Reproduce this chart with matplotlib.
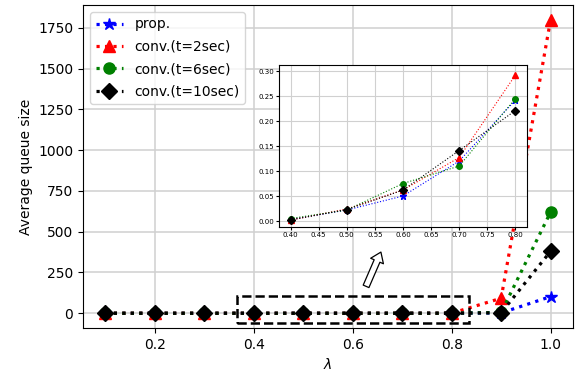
import numpy as np
import matplotlib
matplotlib.use("Agg")
import matplotlib.pyplot as plt
from matplotlib.patches import Rectangle

# arrival rate
lam = [0.1, 0.2, 0.3, 0.4, 0.5, 0.6, 0.7, 0.8, 0.9, 1.0]

# average queue size for each scheme
q_prop = [0.0, 0.0, 0.0005, 0.003, 0.022, 0.050, 0.120, 0.242, 2, 102]
q_conv2 = [0.0, 0.0, 0.0005, 0.002, 0.024, 0.062, 0.127, 0.292, 92, 1800]
q_conv6 = [0.0, 0.0, 0.0005, 0.005, 0.022, 0.075, 0.110, 0.245, 5, 620]
q_conv10 = [0.0, 0.0, 0.0005, 0.002, 0.023, 0.062, 0.141, 0.221, 3, 380]

labels = ["prop.", "conv.(t=2sec)", "conv.(t=6sec)", "conv.(t=10sec)"]
series = [q_prop, q_conv2, q_conv6, q_conv10]
styles = [("b", "*"), ("r", "^"), ("g", "o"), ("k", "D")]

plt.rcParams["grid.color"] = "#d0d0d0"
plt.rcParams["grid.linewidth"] = 1.1

fig = plt.figure(figsize=(5.81, 3.8), dpi=100)
ax = fig.add_axes([0.143, 0.137, 0.843, 0.85])

for y, lab, (c, m) in zip(series, labels, styles):
    ax.plot(lam, y, linestyle=":", color=c, marker=m, markersize=8 if m != "*" else 9,
            linewidth=2.3, label=lab)

ax.grid(True)
ax.set_xlabel(r"$\lambda$")
ax.set_ylabel("Average queue size")
ax.set_xticks([0.2, 0.4, 0.6, 0.8, 1.0])
ax.set_yticks(np.arange(0, 1751, 250))
ax.legend(loc="upper left", labelspacing=0.6)

# zoomed region marker
rect = Rectangle((0.367, -62), 0.835 - 0.367, 169, fill=False, linestyle="--",
                 linewidth=1.8, edgecolor="k", zorder=5)
ax.add_patch(rect)
ax.annotate("", xy=(0.657, 375), xytext=(0.627, 165),
            arrowprops=dict(arrowstyle="simple,head_width=1.0,head_length=0.7,tail_width=0.45",
                            facecolor="white", edgecolor="k", linewidth=0.9,
                            shrinkA=0, shrinkB=0))

# inset
axin = fig.add_axes([0.4807, 0.4026, 0.4258, 0.4263])
for y, (c, m) in zip(series, styles):
    axin.plot(lam[3:8], y[3:8], linestyle=":", color=c, marker=m,
              markersize=4 if m != "*" else 5, linewidth=0.8)
axin.grid(True, linewidth=0.8)
axin.set_xticks([0.40, 0.45, 0.50, 0.55, 0.60, 0.65, 0.70, 0.75, 0.80])
axin.set_yticks([0.0, 0.05, 0.10, 0.15, 0.20, 0.25, 0.30])
axin.set_ylim(-0.012, 0.312)
axin.tick_params(labelsize=5, length=2, pad=1.5)

fig.savefig("out.png", dpi=100)
